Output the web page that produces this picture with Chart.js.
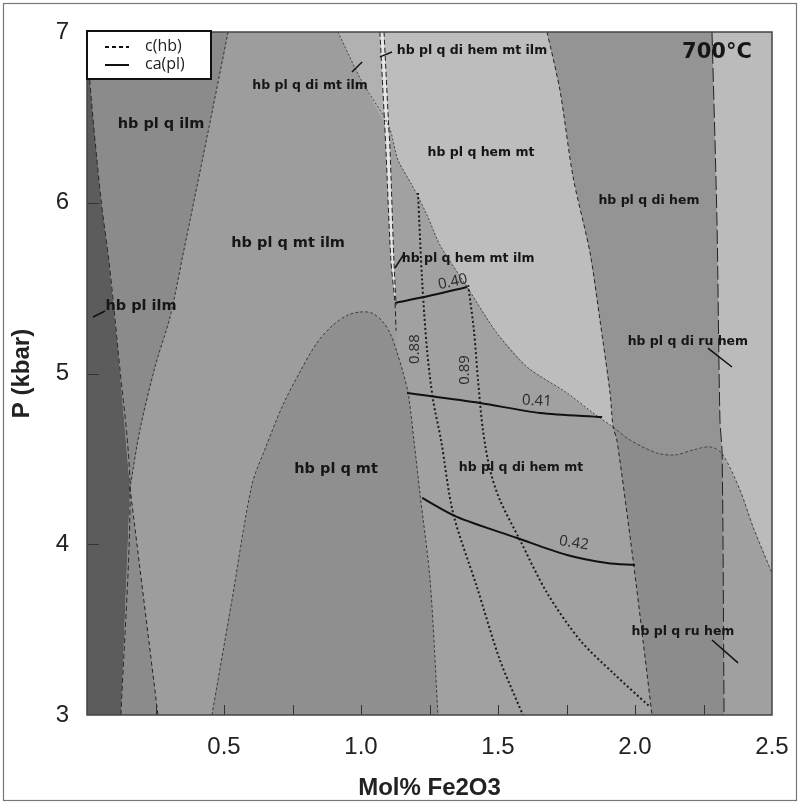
<!DOCTYPE html>
<html>
<head>
<meta charset="utf-8">
<script src="https://cdn.jsdelivr.net/npm/chart.js@4.4.1/dist/chart.umd.min.js"></script>
<style>
  body { margin: 0; background: #fff; }
  #wrap { width: 800px; height: 804px; }
</style>
</head>
<body>
<div id="wrap"><canvas id="phaseChart" width="800" height="804"></canvas></div>
<script>
// Boundaries as [Mol% Fe2O3, P kbar]
const darkEdge   = [[0.004,7],[0.011,6.70],[0.051,6.02],[0.080,5.66],[0.113,5.14],[0.157,4.33],[0.124,3]];
const qIlmEdge   = [[0.515,7],[0.438,6.385],[0.350,5.694],[0.303,5.331],[0.248,5.038],[0.193,4.669],[0.157,4.33]];
const lowerEdge  = [[0.157,4.33],[0.259,3]];
const domeEdge   = [[0.456,3],[0.529,3.673],[0.602,4.347],[0.653,4.57],[0.715,4.816],[0.777,5.009],[0.839,5.179],
                    [0.898,5.284],[0.953,5.343],[0.996,5.36],[1.040,5.354],[1.080,5.302],[1.109,5.226],[1.131,5.126],
                    [1.153,5.009],[1.172,4.886],[1.193,4.611],[1.215,4.3],[1.252,3.791],[1.281,3]];
const wedgeEdge  = [[0.916,7],[1.000,6.72],[1.086,6.47]];
const v1Line     = [[1.069,7],[1.086,6.47],[1.091,6.309],[1.109,5.665],[1.124,5.413],[1.128,5.25]];
const v2Line     = [[1.084,7],[1.101,6.45],[1.106,6.309],[1.120,5.665],[1.128,5.40]];
const fEdge      = [[1.101,6.45],[1.135,6.25],[1.186,6.104],[1.241,5.928],[1.288,5.753],[1.387,5.507],[1.496,5.237],
                    [1.606,5.038],[1.752,4.886],[1.847,4.769],[1.920,4.687]];
const hemEdge    = [[1.679,7],[1.726,6.66],[1.774,6.151],[1.836,5.706],[1.872,5.313],[1.909,4.886],[1.920,4.687],
                    [1.934,4.61],[1.993,3.908],[2.029,3.44],[2.062,3]];
const wLine      = [[1.920,4.687],[1.982,4.61],[2.080,4.534],[2.146,4.523],[2.212,4.552],[2.274,4.57],[2.318,4.53],
                    [2.383,4.318],[2.431,4.101],[2.5,3.83]];
const vrLine     = [[2.281,7],[2.299,5.9],[2.310,4.73],[2.318,4.53],[2.325,3]];

// isopleths
const hb088 = [[1.208,6.057],[1.223,5.548],[1.241,5.138],[1.263,4.845],[1.292,4.611],[1.336,4.183],[1.423,3.75],[1.507,3.322],[1.591,3]];
const hb089 = [[1.391,5.518],[1.412,5.255],[1.427,4.962],[1.445,4.669],[1.471,4.435],[1.507,4.259],[1.580,4.025],[1.679,3.715],[1.799,3.439],[1.920,3.246],[2.055,3.047]];
const pl040 = [[1.124,5.413],[1.250,5.455],[1.387,5.507]];
const pl041 = [[1.168,4.886],[1.434,4.827],[1.653,4.769],[1.880,4.745]];
const pl042 = [[1.223,4.271],[1.350,4.16],[1.569,4.037],[1.752,3.937],[1.898,3.89],[2.000,3.878]];

const isoNames  = ['0.40', '0.41', '0.42', '0.88', '0.89'];
const isoAt     = [[1.335,5.536],[1.642,4.839],[1.777,4.007],[1.197,5.143],[1.380,5.021]];
const isoAngle  = [-12, 3, 9, -90, -90];

const regionNames = ['hb pl q ilm', 'hb pl q di mt ilm', 'hb pl q mt ilm', 'hb pl ilm', 'hb pl q mt',
                     'hb pl q di hem mt ilm', 'hb pl q hem mt', 'hb pl q di hem', 'hb pl q hem mt ilm',
                     'hb pl q di ru hem', 'hb pl q di hem mt', 'hb pl q ru hem'];
const regionAt    = [[0.270,6.461],[0.814,6.684],[0.734,5.764],[0.197,5.395],[0.909,4.441],
                     [1.405,6.889],[1.438,6.291],[2.051,6.010],[1.391,5.671],
                     [2.193,5.184],[1.584,4.447],[2.175,3.486]];
const regionBig   = [true, false, true, true, true, false, false, false, false, false, false, false];
const leaders = [
  [[0.022,5.331],[0.066,5.366]],
  [[0.967,6.766],[1.004,6.824]],
  [[1.069,6.854],[1.113,6.883]],
  [[1.124,5.618],[1.157,5.700]],
  [[2.266,5.149],[2.354,5.038]],
  [[2.281,3.439],[2.376,3.305]]
];
const xMinorTicks = [0.25, 0.5, 0.75, 1.0, 1.25, 1.5, 1.75, 2.0, 2.25];
const yMinorTicks = [4, 5, 6];

const rev = a => a.slice().reverse();
const pts = a => a.map(([x, y]) => ({ x, y }));

const polygons = [
  { pts: [[0,3],[2.5,3],[2.5,7],[0,7]], color: '#9d9d9d' },
  { pts: [[0,7], ...darkEdge, [0,3]], color: '#5c5c5c' },
  { pts: [...darkEdge, ...rev(lowerEdge), ...rev(qIlmEdge)], color: '#8b8b8b' },
  { pts: domeEdge, color: '#8f8f8f' },
  { pts: [...wedgeEdge, v1Line[0]], color: '#b1b1b1' },
  { pts: [[1.086,6.47], ...v1Line.slice(2), ...domeEdge.slice(13), ...rev(hemEdge.slice(6)), ...rev(fEdge)], color: '#a1a1a1' },
  { pts: [v2Line[0], ...hemEdge.slice(0, 7), ...rev(fEdge)], color: '#bdbdbd' },
  { pts: [...vrLine.slice(0, 4), ...rev(wLine.slice(0, 7)), ...rev(hemEdge.slice(0, 7))], color: '#949494' },
  { pts: [...wLine.slice(0, 7), ...vrLine.slice(3), ...rev(hemEdge.slice(6))], color: '#8c8c8c' },
  { pts: [...vrLine.slice(0, 4), ...wLine.slice(6), [2.5,7]], color: '#bbbbbb' },
  { pts: [...wLine.slice(6), [2.5,3], ...rev(vrLine.slice(3))], color: '#a0a0a0' },
  { pts: [...v1Line.slice(0, 5), ...rev(v2Line)], color: '#e4e4e4' }
];

const boundaries = [
  { pts: darkEdge, dash: [5, 3], color: '#2a2a2a' },
  { pts: qIlmEdge, dash: [3, 2], color: '#333' },
  { pts: lowerEdge, dash: [4, 3], color: '#222' },
  { pts: domeEdge, dash: [3, 2], color: '#3a3a3a' },
  { pts: [...wedgeEdge.slice(0, 2), ...fEdge], dash: [2, 2], color: '#444' },
  { pts: hemEdge, dash: [4, 3], color: '#222' },
  { pts: wLine, dash: [3, 2], color: '#444' },
  { pts: vrLine, dash: [14, 4], color: '#222' },
  { pts: v1Line, dash: [5, 3], color: '#222' },
  { pts: v2Line, dash: [5, 3], color: '#222' }
];

const datasets = [];
polygons.forEach(p => datasets.push({
  data: pts(p.pts), fill: 'shape', backgroundColor: p.color,
  borderWidth: 0, pointRadius: 0, tension: 0
}));
boundaries.forEach(b => datasets.push({
  data: pts(b.pts), fill: false, borderColor: b.color, borderWidth: 1,
  borderDash: b.dash, pointRadius: 0, tension: 0.3
}));
[hb088, hb089].forEach(l => datasets.push({
  data: pts(l), fill: false, borderColor: '#1a1a1a', borderWidth: 2,
  borderDash: [2, 2.5], pointRadius: 0, tension: 0.3
}));
[pl040, pl041, pl042].forEach(l => datasets.push({
  data: pts(l), fill: false, borderColor: '#111', borderWidth: 2,
  pointRadius: 0, tension: 0.3
}));
leaders.forEach(l => datasets.push({
  data: pts(l), fill: false, borderColor: '#111', borderWidth: 1.5,
  pointRadius: 0, tension: 0
}));
// later datasets on top
datasets.forEach((d, i) => { d.order = -i; });

const decor = {
  id: 'decor',
  beforeDraw(chart) {
    const { ctx, width, height } = chart;
    ctx.save();
    ctx.fillStyle = '#fff';
    ctx.fillRect(0, 0, width, height);
    ctx.restore();
  },
  afterDatasetsDraw(chart) {
    const { ctx, chartArea: a, scales: { x, y } } = chart;
    ctx.save();

    // inward ticks
    ctx.strokeStyle = '#333';
    ctx.lineWidth = 1;
    ctx.beginPath();
    xMinorTicks.forEach(v => {
      const px = Math.round(x.getPixelForValue(v)) + 0.5;
      ctx.moveTo(px, a.bottom); ctx.lineTo(px, a.bottom - 10);
    });
    yMinorTicks.forEach(v => {
      const py = Math.round(y.getPixelForValue(v)) + 0.5;
      ctx.moveTo(a.left, py); ctx.lineTo(a.left + 12, py);
    });
    ctx.stroke();

    // plot frame
    ctx.strokeStyle = '#444';
    ctx.lineWidth = 1.5;
    ctx.strokeRect(a.left, a.top, a.right - a.left, a.bottom - a.top);

    // region names
    ctx.fillStyle = '#161616';
    ctx.textAlign = 'center';
    ctx.textBaseline = 'middle';
    regionNames.forEach((t, i) => {
      ctx.font = `bold ${regionBig[i] ? 14.5 : 12.5}px "DejaVu Sans", Verdana, sans-serif`;
      ctx.fillText(t, x.getPixelForValue(regionAt[i][0]), y.getPixelForValue(regionAt[i][1]));
    });
    ctx.font = 'bold 21px "DejaVu Sans", Verdana, sans-serif';
    ctx.fillText('700°C', x.getPixelForValue(2.299), y.getPixelForValue(6.877));

    // isopleth values
    ctx.fillStyle = '#2a2a2a';
    ctx.font = '15px "Open Sans", sans-serif';
    isoNames.forEach((t, i) => {
      ctx.save();
      ctx.translate(x.getPixelForValue(isoAt[i][0]), y.getPixelForValue(isoAt[i][1]));
      ctx.rotate(isoAngle[i] * Math.PI / 180);
      ctx.fillText(t, 0, 0);
      ctx.restore();
    });

    // legend box
    const lx = a.left, ly = a.top - 1;
    ctx.fillStyle = '#fff';
    ctx.fillRect(lx, ly, 124, 48);
    ctx.strokeStyle = '#111';
    ctx.lineWidth = 2;
    ctx.strokeRect(lx, ly, 124, 48);
    ctx.setLineDash([4, 3]);
    ctx.beginPath(); ctx.moveTo(lx + 18, ly + 16); ctx.lineTo(lx + 42, ly + 16); ctx.stroke();
    ctx.setLineDash([]);
    ctx.beginPath(); ctx.moveTo(lx + 18, ly + 34); ctx.lineTo(lx + 42, ly + 34); ctx.stroke();
    ctx.fillStyle = '#222';
    ctx.textAlign = 'left';
    ctx.font = '16px "Open Sans", sans-serif';
    ctx.fillText('c(hb)', lx + 58, ly + 15);
    ctx.fillText('ca(pl)', lx + 58, ly + 33);
    ctx.restore();
  },
  afterDraw(chart) {
    const { ctx, width, height } = chart;
    ctx.save();
    ctx.strokeStyle = '#777';
    ctx.lineWidth = 1.2;
    ctx.strokeRect(3.5, 3.5, width - 7, height - 7);
    ctx.restore();
  }
};

Chart.defaults.font.family = '"Liberation Sans", Arial, sans-serif';

new Chart(document.getElementById('phaseChart').getContext('2d'), {
  type: 'line',
  data: { datasets },
  options: {
    responsive: false,
    animation: false,
    devicePixelRatio: 1,
    layout: { padding: { top: 32, right: 28, bottom: 0, left: 0 } },
    plugins: {
      legend: { display: false },
      tooltip: { enabled: false },
      filler: { propagate: false }
    },
    scales: {
      x: {
        type: 'linear', min: 0, max: 2.5,
        grid: { display: false, drawTicks: false },
        border: { display: false },
        ticks: {
          stepSize: 0.5, autoSkip: false, maxRotation: 0, padding: 18,
          color: '#222', font: { size: 24 },
          callback: v => (v === 0 ? '' : v.toFixed(1))
        },
        title: {
          display: true, text: 'Mol% Fe2O3', color: '#222',
          font: { size: 24, weight: 'bold' }, padding: { top: 0, bottom: 1 }
        },
        afterFit: s => { s.height = 89; s.paddingLeft = 0; s.paddingRight = 0; }
      },
      y: {
        type: 'linear', min: 3, max: 7,
        grid: { display: false, drawTicks: false },
        border: { display: false },
        ticks: { stepSize: 1, padding: 18, color: '#222', font: { size: 24 } },
        title: {
          display: true, text: 'P (kbar)', color: '#222',
          font: { size: 24, weight: 'bold' }, padding: { top: 8, bottom: 0 }
        },
        afterFit: s => { s.width = 87; s.paddingTop = 0; s.paddingBottom = 0; }
      }
    }
  },
  plugins: [decor]
});
</script>
</body>
</html>
